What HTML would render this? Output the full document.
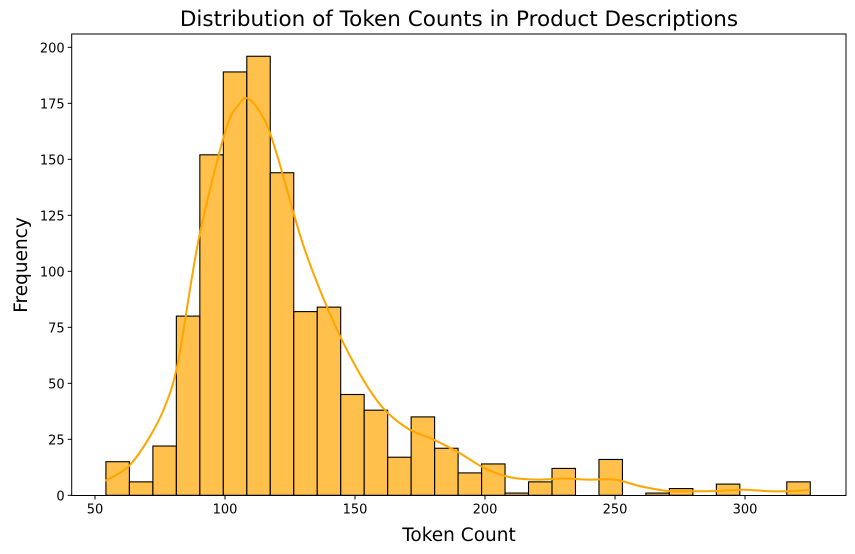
<!DOCTYPE html>
<html><head><meta charset="utf-8"><style>
body{margin:0;background:#fff;}
svg{display:block;font-family:"DejaVu Sans","Liberation Sans",sans-serif;}
</style></head><body>
<svg id="chart" width="855" height="554"></svg>
<script>
const binStart = 54.2;
const binWidth = 9.03;
const counts = [15,6,22,80,152,189,196,144,82,84,45,38,17,35,21,10,14,1,6,12,0,16,0,1,3,0,5,0,0,6];
const kdeX = [54,63,71,77,82,90,100,105,109,115,120,130,140,150,160,170,180,190,200,210,220,230,240,250,260,270,280,290,300,310,320,325];
const kdeY = [6.5,13,26,40,60,115,162,174,177,168,152,112,82,58,40,30,25,19,12,8,7,7.5,7,7,4,2,1.8,2,2.5,1.8,2,2.5];
const xTicks = [50,100,150,200,250,300];
const yTicks = [0,25,50,75,100,125,150,175,200];

const NS = "http://www.w3.org/2000/svg";
const svg = document.getElementById('chart');
const L=71.7,R=846,T=34,B=495.5;
const xs = v => 95 + (v-50)*2.6;
const ys = v => 495.3 - v*2.24;
function mk(tag, attrs, parent){const e=document.createElementNS(NS,tag);for(const k in attrs)e.setAttribute(k,attrs[k]);(parent||svg).appendChild(e);return e;}

const title = mk('text',{x:459,y:26,'text-anchor':'middle','font-size':21.5});
title.textContent='Distribution of Token Counts in Product Descriptions';



const bars = mk('g',{});


counts.forEach((c,i)=>{
  if(c<=0) return;
  const x0=xs(binStart+i*binWidth), x1=xs(binStart+(i+1)*binWidth);
  const r = mk('rect',{x:x0,y:ys(c),width:x1-x0,height:ys(0)-ys(c),fill:'#ffa500','fill-opacity':0.7,stroke:'#000','stroke-width':1.1},bars);
  
  
});

const pts = kdeX.map((x,i)=>[xs(x),ys(kdeY[i])]);
let d='M'+pts[0][0]+','+pts[0][1];
for(let i=0;i<pts.length-1;i++){
  const p0=pts[Math.max(0,i-1)],p1=pts[i],p2=pts[i+1],p3=pts[Math.min(pts.length-1,i+2)];
  d+=' C'+(p1[0]+(p2[0]-p0[0])/6)+','+(p1[1]+(p2[1]-p0[1])/6)+' '+(p2[0]-(p3[0]-p1[0])/6)+','+(p2[1]-(p3[1]-p1[1])/6)+' '+p2[0]+','+p2[1];
}
const kde = mk('path',{d:d,fill:'none',stroke:'#ffa500','stroke-width':2});



const frame = mk('rect',{x:L,y:T,width:R-L,height:B-T,fill:'none',stroke:'#000','stroke-width':1});



xTicks.forEach(t=>{
  const x=xs(t);
  mk('line',{x1:x,x2:x,y1:B,y2:B+4,stroke:'#000'});
  const tx=mk('text',{x:x,y:B+18,'text-anchor':'middle','font-size':13});
  tx.textContent=t;
  
  
});
yTicks.forEach(t=>{
  const y=ys(t);
  mk('line',{x1:L-4,x2:L,y1:y,y2:y,stroke:'#000'});
  const tx=mk('text',{x:L-7,y:y+5,'text-anchor':'end','font-size':13});
  tx.textContent=t;
  
  
});
const xl=mk('text',{x:459,y:541,'text-anchor':'middle','font-size':18.5});
xl.textContent='Token Count';


const yl=mk('text',{x:0,y:0,'text-anchor':'middle','font-size':18.5,transform:'translate(27,265) rotate(-90)'});
yl.textContent='Frequency';


</script>
</body></html>
